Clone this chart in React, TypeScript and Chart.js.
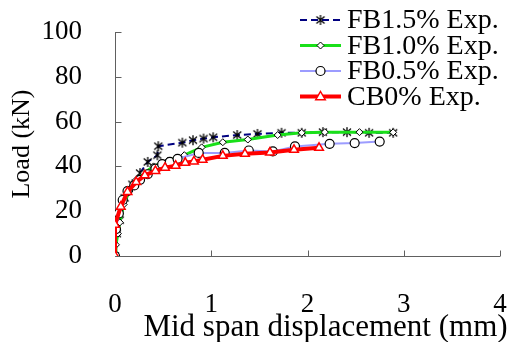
import React, { useEffect, useRef } from 'react';
import { Chart, registerables } from 'chart.js';

Chart.register(...registerables);

// ---- data ----
const fb15X = [0, 0.02, 0.05, 0.1, 0.18, 0.26, 0.34, 0.44, 0.45, 0.7, 0.81, 0.92, 1.02, 1.27, 1.48, 1.73, 1.94, 2.16, 2.41, 2.64, 2.89];
const fb15Y = [0, 10, 16, 26, 32, 37, 42, 45, 49, 50.6, 51.7, 52.4, 53, 54, 54.5, 55, 55, 55.3, 55.3, 55, 55];

const fb10X = [0, 0.01, 0.03, 0.05, 0.09, 0.15, 0.22, 0.3, 0.4, 0.55, 0.72, 0.9, 1.12, 1.38, 1.69, 1.94, 2.18, 2.54, 2.89];
const fb10Y = [0, 5, 10, 15, 23, 29, 34, 37, 40, 42.5, 45, 48.5, 50.8, 52, 54, 55, 55.3, 55.3, 55.2];

const fb05X = [0, 0.01, 0.04, 0.08, 0.13, 0.2, 0.26, 0.34, 0.42, 0.49, 0.57, 0.65, 0.87, 1.14, 1.39, 1.64, 1.87, 2.23, 2.49, 2.75];
const fb05Y = [0, 12, 19, 25, 29, 31.5, 34, 36.5, 39, 41, 42, 43.4, 46, 46, 47.1, 46.7, 48.9, 50.1, 50.4, 51.1];

const cb0X = [0, 0, 0.06, 0.13, 0.22, 0.31, 0.42, 0.52, 0.63, 0.73, 0.82, 0.91, 1.12, 1.35, 1.61, 1.86, 2.12];
const cb0Y = [0, 14, 22, 28.6, 33, 36, 38, 39.4, 40.3, 41.6, 42.2, 43, 44.7, 45.6, 46.2, 47.4, 48.3];

const seriesLabels = ['FB1.5% Exp.', 'FB1.0% Exp.', 'FB0.5% Exp.', 'CB0% Exp.'];
const xTickValues = [0, 1, 2, 3, 4];
const yTickValues = [0, 20, 40, 60, 80, 100];
const xTitle = 'Mid span displacement (mm)';
const yTitle = 'Load (kN)';

const FONT = '"Liberation Serif", "Times New Roman", serif';

const toPts = (xs: number[], ys: number[]) => xs.map((x, i) => ({ x, y: ys[i] }));

function makeAsterisk(): HTMLCanvasElement {
  const c = document.createElement('canvas');
  c.width = 12;
  c.height = 12;
  const g = c.getContext('2d')!;
  g.strokeStyle = '#000';
  g.lineWidth = 1.3;
  g.beginPath();
  g.moveTo(6, 1); g.lineTo(6, 11);
  g.moveTo(2, 2.5); g.lineTo(10, 9.5);
  g.moveTo(10, 2.5); g.lineTo(2, 9.5);
  g.stroke();
  return c;
}

function drawMarker(ctx: CanvasRenderingContext2D, kind: string, x: number, y: number, img: HTMLCanvasElement) {
  ctx.save();
  ctx.setLineDash([]);
  if (kind === 'asterisk') {
    ctx.drawImage(img, x - img.width / 2, y - img.height / 2);
  } else if (kind === 'diamond') {
    const r = 3.5;
    ctx.beginPath();
    ctx.moveTo(x, y - r); ctx.lineTo(x + r, y); ctx.lineTo(x, y + r); ctx.lineTo(x - r, y); ctx.closePath();
    ctx.fillStyle = '#fff'; ctx.fill();
    ctx.strokeStyle = '#000'; ctx.lineWidth = 1; ctx.stroke();
  } else if (kind === 'circle') {
    ctx.beginPath();
    ctx.arc(x, y, 4.5, 0, Math.PI * 2);
    ctx.fillStyle = '#fff'; ctx.fill();
    ctx.strokeStyle = '#000'; ctx.lineWidth = 1.2; ctx.stroke();
  } else if (kind === 'triangle') {
    const r = 5;
    ctx.beginPath();
    ctx.moveTo(x, y - r);
    ctx.lineTo(x + r * 0.95, y + r * 0.65);
    ctx.lineTo(x - r * 0.95, y + r * 0.65);
    ctx.closePath();
    ctx.fillStyle = '#fff'; ctx.fill();
    ctx.strokeStyle = '#ff0000'; ctx.lineWidth = 1.5; ctx.stroke();
  }
  ctx.restore();
}

export default function App() {
  const ref = useRef<HTMLCanvasElement | null>(null);

  useEffect(() => {
    if (!ref.current) return;
    const asterisk = makeAsterisk();
    const markerKinds = ['asterisk', 'diamond', 'circle', 'triangle'];

    const axesPlugin = {
      id: 'insideAxes',
      beforeDatasetsDraw(chart: any) {
        const { ctx, chartArea } = chart;
        const xs = chart.scales.x;
        const ys = chart.scales.y;
        ctx.save();
        ctx.strokeStyle = '#606060';
        ctx.lineWidth = 1;
        ctx.beginPath();
        const lx = Math.round(chartArea.left) + 0.5;
        const by = Math.round(chartArea.bottom) + 0.5;
        ctx.moveTo(lx, by);
        ctx.lineTo(lx, ys.getPixelForValue(100));
        ctx.moveTo(lx, by);
        ctx.lineTo(xs.getPixelForValue(4), by);
        yTickValues.forEach((v) => {
          const py = Math.round(ys.getPixelForValue(v)) + 0.5;
          ctx.moveTo(lx, py);
          ctx.lineTo(lx + 6, py);
        });
        xTickValues.forEach((v) => {
          const px = Math.round(xs.getPixelForValue(v)) + 0.5;
          ctx.moveTo(px, by);
          ctx.lineTo(px, by - 6);
        });
        ctx.stroke();
        ctx.restore();
      },
    };

    const legendPlugin = {
      id: 'customLegend',
      afterDraw(chart: any) {
        const { ctx } = chart;
        ctx.save();
        chart.data.datasets.forEach((ds: any, i: number) => {
          const cy = 20 + i * 25.5;
          ctx.save();
          ctx.strokeStyle = ds.borderColor;
          ctx.lineWidth = ds.borderWidth;
          ctx.setLineDash(ds.borderDash || []);
          ctx.beginPath();
          ctx.moveTo(300, cy);
          ctx.lineTo(341, cy);
          ctx.stroke();
          ctx.restore();
          drawMarker(ctx, markerKinds[i], 320.5, cy, asterisk);
          ctx.fillStyle = '#000';
          ctx.font = `28px ${FONT}`;
          ctx.textAlign = 'left';
          ctx.textBaseline = 'middle';
          ctx.fillText(ds.label, 347, cy + 1);
        });
        // x axis title
        const ca = chart.chartArea;
        ctx.font = `31px ${FONT}`;
        ctx.textAlign = 'center';
        ctx.textBaseline = 'middle';
        ctx.fillStyle = '#000';
        ctx.fillText(xTitle, (ca.left + ca.right) / 2 + 18, 328);
        ctx.restore();
      },
    };

    const chart = new Chart(ref.current, {
      type: 'scatter',
      data: {
        datasets: [
          {
            label: seriesLabels[0],
            data: toPts(fb15X, fb15Y),
            showLine: true,
            borderColor: '#000080',
            borderWidth: 2,
            borderDash: [7, 4],
            pointStyle: asterisk,
            pointRadius: 5,
            order: 3,
          },
          {
            label: seriesLabels[1],
            data: toPts(fb10X, fb10Y),
            showLine: true,
            borderColor: '#19e019',
            borderWidth: 3,
            pointStyle: 'rectRot',
            pointRadius: 3.5,
            pointBackgroundColor: '#fff',
            pointBorderColor: '#000',
            pointBorderWidth: 1,
            order: 2,
          },
          {
            label: seriesLabels[2],
            data: toPts(fb05X, fb05Y),
            showLine: true,
            borderColor: '#9c9cff',
            borderWidth: 2,
            pointStyle: 'circle',
            pointRadius: 4.5,
            pointBackgroundColor: '#fff',
            pointBorderColor: '#000',
            pointBorderWidth: 1.2,
            order: 1,
          },
          {
            label: seriesLabels[3],
            data: toPts(cb0X, cb0Y),
            showLine: true,
            borderColor: '#ff0000',
            borderWidth: 4,
            pointStyle: 'triangle',
            pointRadius: 5,
            pointBackgroundColor: '#fff',
            pointBorderColor: '#ff0000',
            pointBorderWidth: 1.5,
            order: 0,
          },
        ] as any,
      },
      options: {
        animation: false,
        responsive: false,
        layout: { padding: { top: 32, right: 9, left: 0, bottom: 0 } },
        plugins: {
          legend: { display: false },
          title: { display: false },
          tooltip: { enabled: false },
        },
        scales: {
          x: {
            type: 'linear',
            min: 0,
            max: 4,
            afterBuildTicks: (s: any) => { s.ticks = xTickValues.map((v) => ({ value: v })); },
            afterFit: (s: any) => { s.height = 86; s.paddingLeft = 0; s.paddingRight = 0; },
            grid: { display: false, drawTicks: false },
            border: { display: false },
            ticks: {
              color: '#000',
              font: { family: FONT, size: 27 },
              padding: 33,
              maxRotation: 0,
            },
          },
          y: {
            type: 'linear',
            min: 0,
            max: 100,
            afterBuildTicks: (s: any) => { s.ticks = yTickValues.map((v) => ({ value: v })); },
            afterFit: (s: any) => { s.width = 115; s.paddingTop = 0; s.paddingBottom = 0; },
            grid: { display: false, drawTicks: false },
            border: { display: false },
            ticks: {
              color: '#000',
              font: { family: FONT, size: 27 },
              padding: 33,
            },
            title: {
              display: true,
              text: yTitle,
              color: '#000',
              font: { family: FONT, size: 26, lineHeight: 1.2 },
              padding: { top: 7, bottom: 0 },
            },
          },
        },
      } as any,
      plugins: [axesPlugin, legendPlugin],
    });

    return () => chart.destroy();
  }, []);

  return (
    <div style={{ position: 'absolute', left: 0, top: 0, width: 509, height: 342, background: '#fff' }}>
      <canvas ref={ref} width={509} height={342} />
    </div>
  );
}
